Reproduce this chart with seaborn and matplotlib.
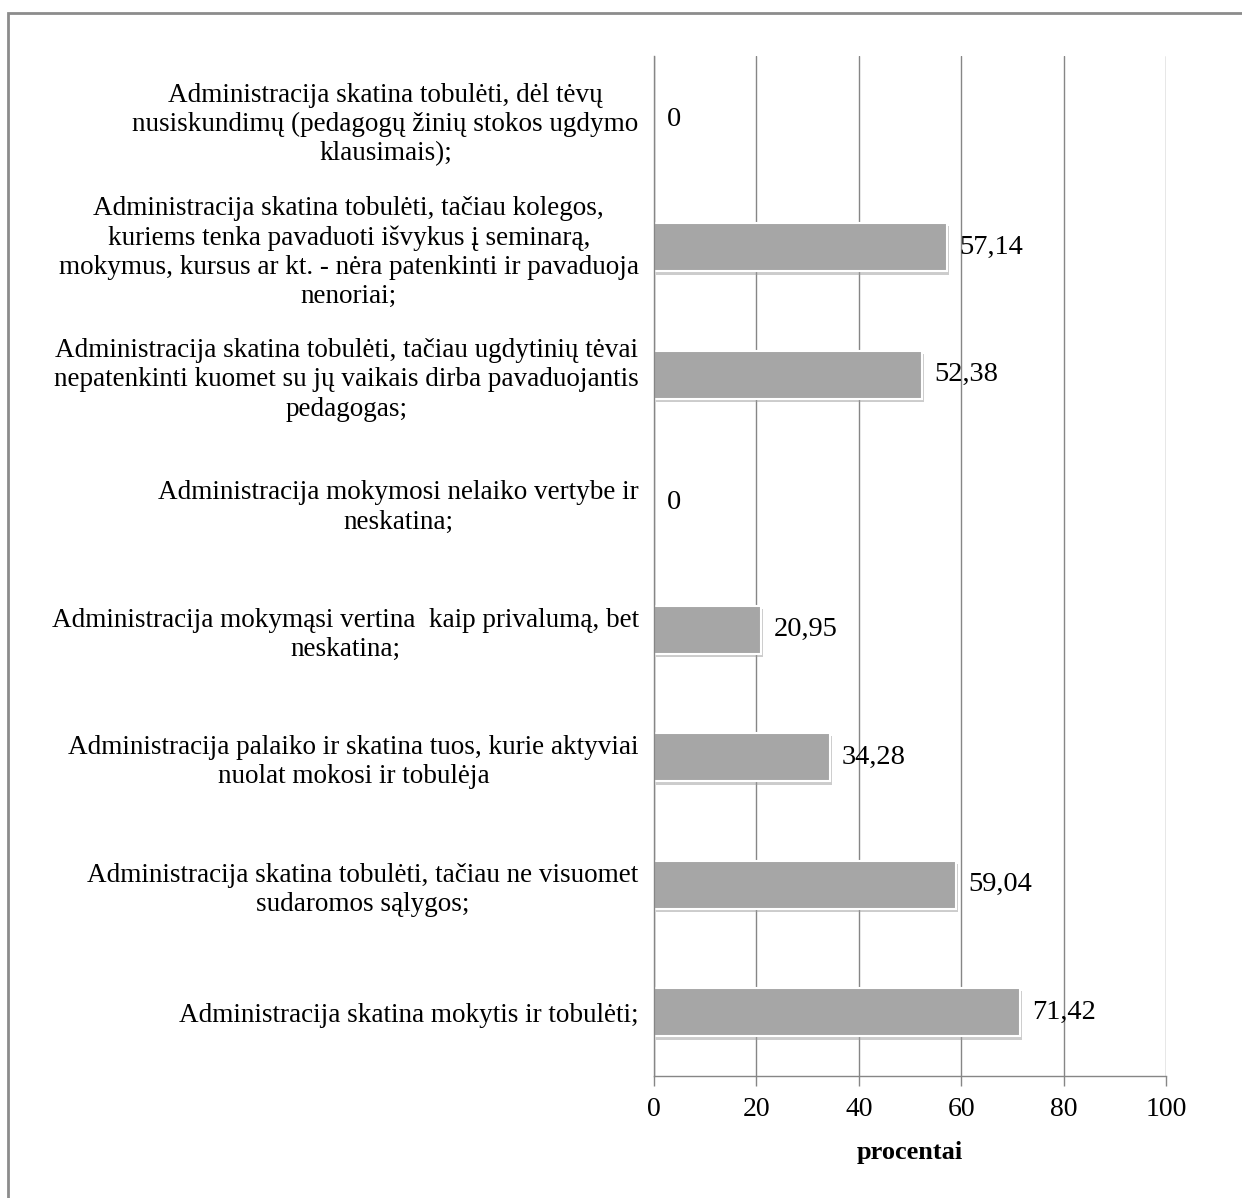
import matplotlib
matplotlib.use("Agg")
import matplotlib.pyplot as plt
import matplotlib.patheffects as pe
from matplotlib.patches import Rectangle
import seaborn as sns
import pandas as pd

categories = [
    "Administracija skatina tobulėti, dėl tėvų\nnusiskundimų (pedagogų žinių stokos ugdymo\nklausimais);",
    "Administracija skatina tobulėti, tačiau kolegos,\nkuriems tenka pavaduoti išvykus į seminarą,\nmokymus, kursus ar kt. - nėra patenkinti ir pavaduoja\nnenoriai;",
    "Administracija skatina tobulėti, tačiau ugdytinių tėvai\nnepatenkinti kuomet su jų vaikais dirba pavaduojantis\npedagogas;",
    "Administracija mokymosi nelaiko vertybe ir\nneskatina;",
    "Administracija mokymąsi vertina  kaip privalumą, bet\nneskatina;",
    "Administracija palaiko ir skatina tuos, kurie aktyviai\nnuolat mokosi ir tobulėja",
    "Administracija skatina tobulėti, tačiau ne visuomet\nsudaromos sąlygos;",
    "Administracija skatina mokytis ir tobulėti;",
]
values = [0, 57.14, 52.38, 0, 20.95, 34.28, 59.04, 71.42]
value_labels = ["0", "57,14", "52,38", "0", "20,95", "34,28", "59,04", "71,42"]
x_ticks = [0, 20, 40, 60, 80, 100]
x_label = "procentai"

sns.set_theme(style="white")
plt.rcParams["font.family"] = ["Liberation Serif", "DejaVu Serif"]
plt.rcParams["text.color"] = "black"
plt.rcParams["xtick.color"] = "black"
plt.rcParams["ytick.color"] = "black"
plt.rcParams["axes.labelcolor"] = "black"

W, H = 1242, 1198
fig = plt.figure(figsize=(W / 100, H / 100), dpi=100)
ax = fig.add_axes([654 / W, (H - 1076) / H, (1166 - 654) / W, (1076 - 56) / H])

df = pd.DataFrame({"cat": categories, "val": values})
sns.barplot(data=df, x="val", y="cat", order=categories, orient="h",
            color="#a6a6a6", saturation=1, width=0.38, ax=ax,
            edgecolor="white", linewidth=1.5)

for p in ax.patches:
    p.set_path_effects([pe.SimplePatchShadow(offset=(1.5, -2.5), shadow_rgbFace="#9a9a9a", alpha=0.5),
                        pe.Normal()])

ax.bar_label(ax.containers[0], labels=value_labels, padding=9, fontsize=20.5, color="black")

ax.set_xlim(0, 100)
ax.set_ylim(7.5, -0.5)
ax.set_xticks(x_ticks)
ax.set_xticklabels([str(t) for t in x_ticks], fontsize=20)
ax.xaxis.grid(True, color="#868686", linewidth=1)
ax.yaxis.grid(False)
ax.set_axisbelow(True)
for s in ["top", "right"]:
    ax.spines[s].set_visible(False)
for s in ["left", "bottom"]:
    ax.spines[s].set_color("#868686")
    ax.spines[s].set_linewidth(1)
ax.tick_params(axis="x", bottom=True, length=7, color="#868686", labelcolor="black", width=1, pad=8)
ax.tick_params(axis="y", left=False, length=0, pad=11, labelsize=19.5, labelcolor="black")
for lbl in ax.get_yticklabels():
    lbl.set_multialignment("center")
    lbl.set_linespacing(1.22)
ax.set_ylabel("")
ax.set_xlabel(x_label, fontsize=19, fontweight="bold", labelpad=14, color="black")

fig.patches.append(Rectangle((8 / W, -0.1), 1.2, (H - 13) / H + 0.1, transform=fig.transFigure,
                             fill=False, edgecolor="#8c8c8c", linewidth=2))

fig.savefig("out.png", dpi=100, facecolor="white")
